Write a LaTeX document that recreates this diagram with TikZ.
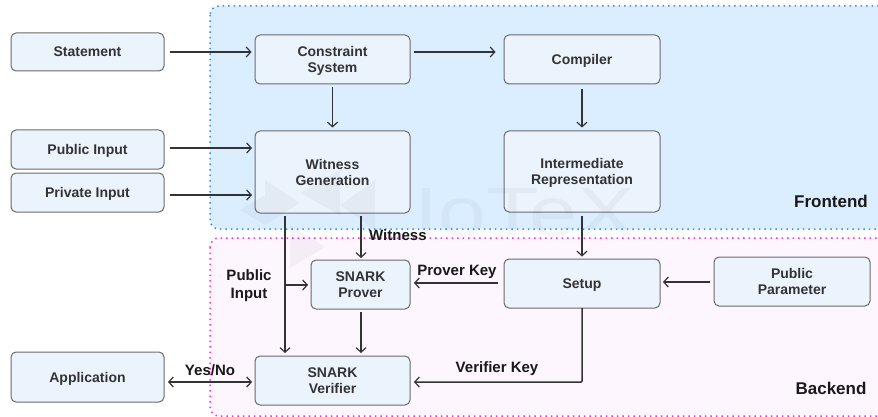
\documentclass[tikz,border=0pt]{standalone}
\usepackage{fontspec}
\setmainfont{Liberation Sans}
\usetikzlibrary{arrows.meta,calc}
\definecolor{boxfill}{HTML}{EBF4FD}
\definecolor{boxline}{HTML}{6A6A6A}
\definecolor{frontfill}{HTML}{DBEEFF}
\definecolor{frontline}{HTML}{3D8BF5}
\definecolor{backfill}{HTML}{FEF6FF}
\definecolor{backline}{HTML}{F032E0}
\definecolor{txt}{HTML}{333333}
\tikzset{
 x=1pt,y=-1pt,
 blockbox/.style={draw=boxline,line width=1pt,fill=boxfill,rounded corners=5pt,minimum width=#1,align=center,
   font=\fontsize{14}{16}\selectfont\bfseries,text=txt,inner sep=0pt,text depth=-3pt},
 region/.style={line width=1.5pt,dash pattern=on 1.5pt off 4pt,rounded corners=9pt},
 conn/.style={draw=black!80,line width=1.5pt,-{Straight Barb[length=4.5pt,width=10pt,line width=1.2pt]}},
 both/.style={draw=black!80,line width=1.5pt,{Straight Barb[length=4.5pt,width=10pt,line width=1.2pt]}-{Straight Barb[length=4.5pt,width=10pt,line width=1.2pt]}},
 lab/.style={font=\fontsize{15}{18}\selectfont\bfseries,text=black!90,align=center,inner sep=0pt},
 regionlab/.style={font=\fontsize{17}{20}\selectfont\bfseries,text=black!90,inner sep=0pt},
}
\newcommand{\blk}[7]{% name, x0, y0, x1, y1, text
 \node[blockbox=#4pt-#2pt,minimum height=#5pt-#3pt] (#1) at ({(#2+#4)/2},{(#3+#5)/2}) {#6};}
\begin{document}
\begin{tikzpicture}
\useasboundingbox (0,0) rectangle (878,417);
\fill[white] (0,0) rectangle (878,417);
% regions
\draw[region,draw=frontline,fill=frontfill] (210,6) rectangle (890,229);
\draw[region,draw=backline,fill=backfill] (210,238) rectangle (890,416);
% blocks
\blk{st}{11}{33}{164}{71}{Statement}{}
\blk{pi}{11}{130}{164}{169}{Public Input}{}
\blk{pv}{11}{173}{164}{212}{Private Input}{}
\blk{app}{11}{352}{164}{402}{Application}{}
\blk{cs}{255}{35}{410}{84}{Constraint\\System}{}
\blk{co}{504}{35}{660}{84}{Compiler}{}
\blk{wg}{255}{131}{410}{213}{Witness\\Generation}{}
\blk{ir}{504}{131}{660}{212}{Intermediate\\Representation}{}
\blk{sp}{311}{260}{410}{309}{SNARK\\Prover}{}
\blk{su}{504}{259}{660}{308}{Setup}{}
\blk{pp}{714}{257}{870}{306}{Public\\Parameter}{}
\blk{sv}{255}{356}{410}{405}{SNARK\\Verifier}{}
% connectors
\coordinate (wgpi) at (255,148);
\coordinate (wgpv) at (255,195);
\coordinate (wgb) at (285,213);
\coordinate (svt) at (285,356);
\coordinate (branch) at (285,285);
\coordinate (wgw) at (361,213);
\coordinate (spt) at (361,260);
\coordinate (spb) at (361,309);
\coordinate (svs) at (361,356);
\coordinate (sue) at (582,308);
\coordinate (cor) at (582,382);
\coordinate (sve) at (410,382);
\coordinate (appe) at (164,382);
\coordinate (svw) at (255,382);
\coordinate (suw) at (504,283);
\coordinate (spe) at (410,283);
\coordinate (ppw) at (714,282);
\coordinate (sue2) at (660,282);
\coordinate (spw) at (311,285);
\draw[conn,shorten <=5pt,shorten >=3pt] (st.east) -- (cs.west |- st.east);
\draw[conn,shorten <=3pt,shorten >=8pt] (cs.east |- 0,52) -- (co.west |- 0,52);
\draw[conn,shorten <=3pt,shorten >=3pt] (cs.south) -- (wg.north);
\draw[conn,shorten <=5pt,shorten >=3pt] (co.south) -- (ir.north);
\draw[conn,shorten <=5pt,shorten >=3pt] (pi.east |- wgpi) -- (wgpi);
\draw[conn,shorten <=5pt,shorten >=3pt] (pv.east |- wgpv) -- (wgpv);
\draw[conn,shorten <=3pt,shorten >=2pt] (ir.south) -- (su.north);
\draw[conn,shorten <=3pt,shorten >=2pt] (wgw) -- (spt);
\draw[conn,shorten <=3pt,shorten >=3pt] (wgb) -- (svt);
\draw[conn,shorten >=3pt] (branch) -- (spw);
\draw[conn,shorten <=6pt,shorten >=4pt] (suw) -- (spe);
\draw[conn,shorten <=4pt,shorten >=3pt] (ppw) -- (sue2);
\draw[conn,shorten <=3pt,shorten >=3pt] (spb) -- (svs);
\draw[conn,shorten >=4pt,rounded corners=1pt] (sue) -- (cor) -- (sve);
\draw[both,shorten <=4pt,shorten >=3pt] (appe) -- (svw);
% labels
\node[lab,anchor=west] (lw) at (369,235) {Witness};
\node[lab] (lpi) at (249,285.5) {Public\\Input};
\node[lab] (lpk) at (457,271.5) {Prover Key};
\node[lab] (lvk) at (497,368.5) {Verifier Key};
\node[lab] (lyn) at (210,370) {Yes/No};
\node[regionlab] (lf) at (831,201) {Frontend};
\node[regionlab] (lb) at (831,388.5) {Backend};
% watermark
\begin{scope}[opacity=.035]
\fill[black] (265,180) -- (265,225) -- (300,203) -- cycle;
\fill[black] (340,170) -- (340,215) -- (300,193) -- cycle;
\fill[black] (290,225) -- (290,268) -- (325,247) -- cycle;
\fill[black] (375,180) -- (375,230) -- (340,205) -- cycle;
\fill[black] (265,225) -- (240,210) -- (265,195) -- cycle;
\node[inner sep=0pt,font=\fontsize{70}{70}\selectfont,text=black,xscale=1.23] (wm) at (525,213) {IoTeX};
\end{scope}
\end{tikzpicture}
\end{document}
